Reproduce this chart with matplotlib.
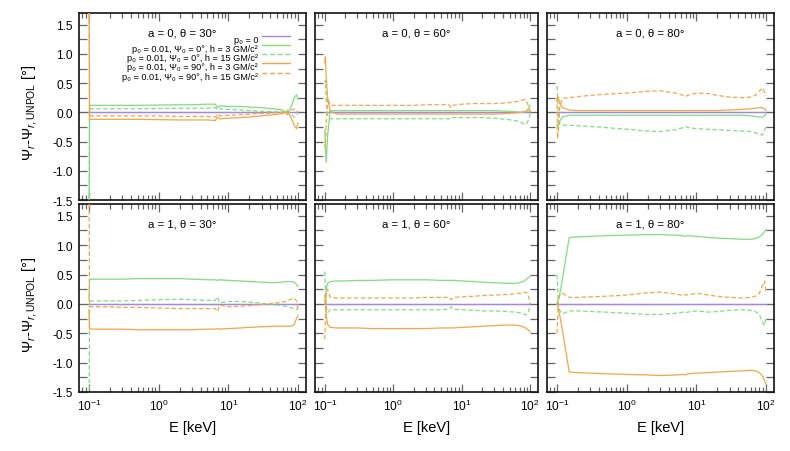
import math
import matplotlib
matplotlib.use("Agg")
import matplotlib.pyplot as plt
from matplotlib.lines import Line2D
from matplotlib.ticker import FixedLocator, LogLocator, NullFormatter, FuncFormatter

plt.rcParams['font.family'] = ['Liberation Sans', 'DejaVu Sans']
plt.rcParams['mathtext.fontset'] = 'custom'
plt.rcParams['mathtext.rm'] = 'Liberation Sans'
plt.rcParams['mathtext.it'] = 'Liberation Sans:italic'
plt.rcParams['mathtext.bf'] = 'Liberation Sans:bold'
plt.rcParams['axes.unicode_minus'] = False

# ---------------- data ----------------
E = [0.100, 0.102, 0.105, 0.11, 0.12, 0.15, 0.2, 0.3, 0.5, 1.0, 2.0, 3.0, 5.0,
     6.5, 7.0, 7.5, 10, 15, 20, 30, 45, 60, 70, 80, 88, 95, 100]

titles = ["a = 0, θ = 30°", "a = 0, θ = 60°", "a = 0, θ = 80°",
          "a = 1, θ = 30°", "a = 1, θ = 60°", "a = 1, θ = 80°"]

# a=0, theta=30
gs_00 = [-3, 0.12, 0.12, 0.12, 0.12, 0.12, 0.12, 0.12, 0.12, 0.125, 0.13, 0.13, 0.14,
         0.14, 0.08, 0.11, 0.10, 0.10, 0.09, 0.08, 0.06, 0.04, -0.02, 0.10, 0.25, 0.30, 0.22]
gd_00 = [-3, 0.06, 0.06, 0.06, 0.06, 0.06, 0.06, 0.06, 0.06, 0.065, 0.07, 0.07, 0.07,
         0.08, 0.04, 0.06, 0.05, 0.04, 0.03, 0.02, 0.01, 0.0, 0.04, -0.04, -0.08, -0.05, -0.02]
os_00 = [3, -0.12, -0.12, -0.12, -0.12, -0.12, -0.12, -0.12, -0.12, -0.125, -0.13, -0.13, -0.13,
         -0.14, -0.08, -0.11, -0.10, -0.09, -0.08, -0.06, -0.04, -0.02, 0.02, -0.10, -0.22, -0.28, -0.18]
od_00 = [3, -0.06, -0.06, -0.06, -0.06, -0.06, -0.06, -0.06, -0.06, -0.06, -0.07, -0.07, -0.07,
         -0.08, -0.03, -0.06, -0.05, -0.04, -0.03, -0.02, -0.01, 0.0, -0.04, 0.04, 0.06, 0.03, 0.0]

# a=0, theta=60
gs_01 = [-0.3, -0.6, -0.86, -0.4, 0.03, 0.03, 0.03, 0.03, 0.03, 0.03, 0.03, 0.03, 0.03,
         0.03, 0.03, 0.03, 0.03, 0.03, 0.03, 0.03, 0.02, 0.01, 0.0, 0.0, 0.02, 0.08, 0.12]
gd_01 = [0.5, 0.55, 0.2, -0.05, -0.11, -0.11, -0.11, -0.11, -0.11, -0.11, -0.11, -0.11, -0.11,
         -0.11, -0.08, -0.09, -0.09, -0.09, -0.09, -0.10, -0.12, -0.14, -0.16, -0.20, -0.20, -0.12, -0.02]
os_01 = [0.85, 0.95, 0.6, 0.25, 0.02, -0.03, -0.03, -0.03, -0.03, -0.03, -0.03, -0.03, -0.03,
         -0.03, -0.03, -0.03, -0.03, -0.03, -0.03, -0.03, -0.02, -0.01, 0.0, 0.01, 0.02, 0.03, 0.02]
od_01 = [-0.55, -0.6, -0.2, 0.25, 0.12, 0.12, 0.12, 0.12, 0.12, 0.12, 0.12, 0.13, 0.13,
         0.13, 0.08, 0.12, 0.14, 0.15, 0.15, 0.15, 0.16, 0.18, 0.19, 0.22, 0.20, 0.10, 0.0]

# a=0, theta=80
gs_02 = [-0.2, -0.25, -0.22, -0.15, -0.08, -0.05, -0.05, -0.05, -0.05, -0.05, -0.05, -0.05, -0.05,
         -0.05, -0.05, -0.05, -0.05, -0.05, -0.05, -0.05, -0.05, -0.06, -0.07, -0.08, -0.08, -0.06, -0.03]
gd_02 = [0.45, 0.3, -0.1, -0.2, -0.22, -0.22, -0.23, -0.24, -0.26, -0.29, -0.32, -0.33, -0.30,
         -0.26, -0.24, -0.26, -0.28, -0.29, -0.30, -0.31, -0.32, -0.33, -0.35, -0.37, -0.39, -0.30, -0.25]
os_02 = [0.2, 0.27, 0.25, 0.15, 0.08, 0.04, 0.03, 0.03, 0.03, 0.03, 0.03, 0.03, 0.03,
         0.03, 0.03, 0.03, 0.03, 0.03, 0.03, 0.04, 0.05, 0.06, 0.07, 0.08, 0.08, 0.06, 0.03]
od_02 = [0.25, -0.45, -0.3, 0.1, 0.24, 0.25, 0.27, 0.29, 0.31, 0.33, 0.36, 0.37, 0.33,
         0.29, 0.27, 0.29, 0.33, 0.32, 0.29, 0.26, 0.25, 0.26, 0.29, 0.36, 0.42, 0.35, 0.28]

# a=1, theta=30
gs_10 = [0.07, 0.42, 0.42, 0.42, 0.42, 0.42, 0.42, 0.42, 0.43, 0.43, 0.43, 0.42, 0.41,
         0.41, 0.40, 0.41, 0.40, 0.39, 0.38, 0.37, 0.36, 0.37, 0.38, 0.38, 0.37, 0.33, 0.30]
gd_10 = [-3, 0.05, 0.05, 0.05, 0.05, 0.05, 0.05, 0.05, 0.06, 0.07, 0.08, 0.07, 0.06,
         0.06, 0.12, 0.02, 0.04, 0.04, 0.03, 0.01, -0.01, -0.03, -0.05, -0.07, -0.08, -0.10, -0.05]
os_10 = [-0.10, -0.43, -0.43, -0.43, -0.43, -0.43, -0.43, -0.43, -0.44, -0.44, -0.44, -0.44, -0.43,
         -0.43, -0.42, -0.43, -0.42, -0.41, -0.40, -0.39, -0.38, -0.38, -0.38, -0.38, -0.35, -0.25, -0.20]
od_10 = [3, -0.05, -0.05, -0.05, -0.05, -0.05, -0.05, -0.06, -0.06, -0.07, -0.08, -0.08, -0.08,
         -0.08, -0.13, -0.02, -0.05, -0.04, -0.03, -0.01, 0.01, 0.03, 0.05, 0.08, 0.10, 0.05, -0.10]

# a=1, theta=60
gs_11 = [0.0, 0.1, 0.25, 0.35, 0.38, 0.39, 0.39, 0.40, 0.40, 0.41, 0.41, 0.41, 0.40,
         0.40, 0.40, 0.40, 0.39, 0.38, 0.37, 0.36, 0.35, 0.35, 0.36, 0.38, 0.42, 0.45, 0.47]
gd_11 = [0.55, 0.3, -0.05, -0.15, -0.10, -0.10, -0.10, -0.10, -0.10, -0.10, -0.10, -0.10, -0.10,
         -0.09, -0.05, -0.09, -0.10, -0.11, -0.12, -0.12, -0.13, -0.14, -0.15, -0.17, -0.19, -0.12, -0.02]
os_11 = [0.15, 0.05, -0.2, -0.35, -0.40, -0.41, -0.41, -0.41, -0.42, -0.42, -0.42, -0.42, -0.41,
         -0.41, -0.41, -0.41, -0.40, -0.39, -0.38, -0.37, -0.36, -0.36, -0.37, -0.39, -0.42, -0.45, -0.47]
od_11 = [-0.6, -0.3, 0.15, 0.25, 0.11, 0.10, 0.10, 0.10, 0.10, 0.10, 0.10, 0.11, 0.11,
         0.11, 0.07, 0.11, 0.12, 0.13, 0.14, 0.15, 0.16, 0.17, 0.18, 0.19, 0.20, 0.12, 0.0]

# a=1, theta=80
gs_12 = [0.0, 0.05, 0.10, 0.17, 0.43, 1.13, 1.14, 1.15, 1.16, 1.17, 1.18, 1.18, 1.17,
         1.16, 1.15, 1.16, 1.15, 1.13, 1.12, 1.11, 1.10, 1.10, 1.11, 1.14, 1.18, 1.23, 1.27]
gd_12 = [0.5, 0.35, 0.0, -0.12, -0.17, -0.12, -0.12, -0.13, -0.14, -0.16, -0.18, -0.18, -0.16,
         -0.14, -0.15, -0.14, -0.12, -0.14, -0.13, -0.11, -0.10, -0.11, -0.13, -0.18, -0.30, -0.37, -0.22]
os_12 = [0.0, -0.02, -0.10, -0.20, -0.45, -1.16, -1.17, -1.18, -1.19, -1.20, -1.21, -1.22, -1.21,
         -1.20, -1.21, -1.19, -1.18, -1.17, -1.16, -1.15, -1.14, -1.13, -1.14, -1.17, -1.22, -1.30, -1.37]
od_12 = [-0.5, -0.3, 0.05, 0.15, 0.18, 0.11, 0.11, 0.12, 0.13, 0.15, 0.19, 0.20, 0.17,
         0.14, 0.16, 0.15, 0.18, 0.15, 0.13, 0.11, 0.10, 0.11, 0.13, 0.18, 0.30, 0.39, 0.20]

p0_zero = [0.0] * len(E)

panels = [
    (gs_00, gd_00, os_00, od_00), (gs_01, gd_01, os_01, od_01), (gs_02, gd_02, os_02, od_02),
    (gs_10, gd_10, os_10, od_10), (gs_11, gd_11, os_11, od_11), (gs_12, gd_12, os_12, od_12),
]

labels = ["p₀ = 0",
          "p₀ = 0.01, Ψ₀ = 0°, h = 3 GM/c²",
          "p₀ = 0.01, Ψ₀ = 0°, h = 15 GM/c²",
          "p₀ = 0.01, Ψ₀ = 90°, h = 3 GM/c²",
          "p₀ = 0.01, Ψ₀ = 90°, h = 15 GM/c²"]

# ---------------- style ----------------
PURPLE = '#a386e6'
GREEN = '#80dd80'
ORANGE = '#f4a646'
LW = 0.9
DASH = (3.5, 2.0)
styles = [(PURPLE, None), (GREEN, None), (GREEN, DASH), (ORANGE, None), (ORANGE, DASH)]

W, H = 790, 452
fig = plt.figure(figsize=(W / 100, H / 100), dpi=100)

cols = [(79, 306), (315, 538), (547, 774)]
rows = [(14, 201), (205, 393)]


def fmt_log(v, pos):
    e = int(round(math.log10(v)))
    return r"10$^{%d}$" % e


for idx, (gs, gd, os_, od) in enumerate(panels):
    r, c = divmod(idx, 3)
    x0, x1 = cols[c]
    y0, y1 = rows[r]
    ax = fig.add_axes([x0 / W, 1 - y1 / H, (x1 - x0) / W, (y1 - y0) / H])
    ax.set_xscale('log')
    ax.set_xlim(0.072, 130)
    ax.set_ylim(-1.5, 1.7)
    ax.axhline(0, color='#777777', lw=0.8, zorder=1)
    series = [p0_zero, gs, gd, os_, od]
    for k, ys in enumerate(series):
        col, dsh = styles[k]
        kw = dict(color=col, lw=1.0 if k == 0 else LW, zorder=2 if k == 0 else 3)
        if dsh:
            kw['dashes'] = dsh
        ax.plot(E, ys, **kw)

    ax.text(0.455, 0.895, titles[idx], transform=ax.transAxes,
            ha='center', va='center', fontsize=8.2)

    ax.yaxis.set_major_locator(FixedLocator([-1.5, -1.0, -0.5, 0.0, 0.5, 1.0, 1.5]))
    ax.yaxis.set_minor_locator(FixedLocator([-1.25, -0.75, -0.25, 0.25, 0.75, 1.25]))
    ax.xaxis.set_major_locator(LogLocator(base=10, numticks=10))
    ax.xaxis.set_minor_locator(LogLocator(base=10, subs=range(2, 10), numticks=20))
    ax.xaxis.set_minor_formatter(NullFormatter())
    ax.tick_params(which='both', direction='in', top=True, right=True,
                   color='#666666', width=0.9, labelsize=8.6, pad=4.5)
    ax.tick_params(which='major', length=6)
    ax.tick_params(axis='y', which='minor', length=6)
    ax.tick_params(axis='x', which='minor', length=3.5)
    for s in ax.spines.values():
        s.set_linewidth(1.2)
        s.set_color('#111111')

    if c == 0:
        ax.yaxis.set_major_formatter(FuncFormatter(lambda v, p: "%.1f" % v))
        ax.set_ylabel(r"$\Psi_r$-$\Psi_{r,\mathrm{UNPOL}}$ [°]", fontsize=10.5)
        ax.yaxis.set_label_coords(-0.175, 0.47)
    else:
        ax.set_yticklabels([])
    if r == 1:
        ax.xaxis.set_major_formatter(FuncFormatter(fmt_log))
        ax.set_xlabel("E [keV]", fontsize=10.5, labelpad=5)
    else:
        ax.set_xticklabels([])

    if idx == 0:
        # legend drawn as text + sample lines, gnuplot style
        row_px = [39, 48.3, 57.5, 66.7, 76]
        for k, lab in enumerate(labels):
            yf = (y1 - row_px[k]) / (y1 - y0)
            ax.text((258 - x0) / (x1 - x0), yf, lab, transform=ax.transAxes,
                    ha='right', va='center_baseline', fontsize=6.6)
            col, dsh = styles[k]
            ln = Line2D([(262 - x0) / (x1 - x0), (290 - x0) / (x1 - x0)], [yf + 0.012, yf + 0.012],
                        transform=ax.transAxes, color=col, lw=1.0)
            if dsh:
                ln.set_dashes(dsh)
            ax.add_line(ln)

fig.savefig("out.png", dpi=100)
